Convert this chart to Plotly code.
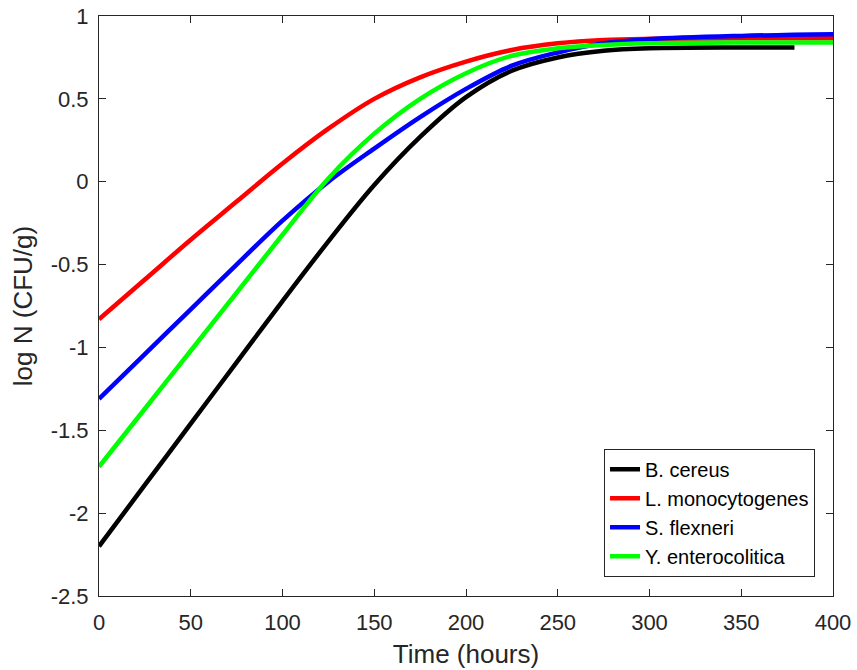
import plotly.graph_objects as go

# Time points (hours)
t_common = [0, 25, 50, 75, 100, 125, 150, 175, 200, 225, 250, 275, 300, 350, 400]
t_black = [0, 25, 50, 75, 100, 125, 150, 175, 200, 225, 250, 275, 300, 350, 379]

# log N (CFU/g) values
b_cereus = [-2.20, -1.83, -1.46, -1.09, -0.72, -0.36, -0.02, 0.27, 0.51, 0.67, 0.75, 0.79, 0.805, 0.81, 0.81]
l_monocytogenes = [-0.83, -0.59, -0.35, -0.12, 0.11, 0.32, 0.50, 0.63, 0.725, 0.795, 0.835, 0.855, 0.862, 0.865, 0.865]
s_flexneri = [-1.31, -1.04, -0.77, -0.50, -0.235, 0.00, 0.20, 0.39, 0.56, 0.70, 0.78, 0.835, 0.86, 0.88, 0.89]
y_enterocolitica = [-1.72, -1.37, -1.02, -0.67, -0.32, 0.02, 0.29, 0.50, 0.655, 0.76, 0.805, 0.825, 0.835, 0.84, 0.84]

series_names = ["B. cereus", "L. monocytogenes", "S. flexneri", "Y. enterocolitica"]

x_tickvals = [0, 50, 100, 150, 200, 250, 300, 350, 400]
x_ticktext = ["0", "50", "100", "150", "200", "250", "300", "350", "400"]
y_tickvals = [-2.5, -2, -1.5, -1, -0.5, 0, 0.5, 1]
y_ticktext = ["-2.5", "-2", "-1.5", "-1", "-0.5", "0", "0.5", "1"]

fig = go.Figure()
data = [
    (t_black, b_cereus, "#000000"),
    (t_common, l_monocytogenes, "#ff0000"),
    (t_common, s_flexneri, "#0000ff"),
    (t_common, y_enterocolitica, "#00ff00"),
]
for (tx, vy, col), name in zip(data, series_names):
    fig.add_trace(go.Scatter(x=tx, y=vy, mode="lines", name=name,
                             line=dict(color=col, width=4.5, shape="spline", smoothing=1.0)))

axis_col = "#262626"
fig.update_layout(
    width=857, height=670,
    margin=dict(l=99, r=24, t=16, b=74, autoexpand=False),
    paper_bgcolor="white", plot_bgcolor="white",
    font=dict(family="Liberation Sans, Arial, sans-serif", size=22, color=axis_col),
    showlegend=True,
    legend=dict(x=0.9755, y=0.033, xanchor="right", yanchor="bottom",
                bgcolor="white", bordercolor=axis_col, borderwidth=1,
                font=dict(size=20, color="#000000"),
                tracegroupgap=0),
)
fig.update_xaxes(range=[0, 400], tickvals=x_tickvals, ticktext=x_ticktext,
                 ticks="inside", ticklen=7, tickcolor=axis_col, mirror="allticks",
                 showline=True, linecolor=axis_col, linewidth=1, showgrid=False, zeroline=False,
                 ticklabeloverflow="allow", ticklabelstandoff=7,
                 title=dict(text="Time (hours)", font=dict(size=26, color=axis_col), standoff=10),
                 tickfont=dict(size=22, color=axis_col))
fig.update_yaxes(range=[-2.5, 1], tickvals=y_tickvals, ticktext=y_ticktext,
                 ticks="inside", ticklen=7, tickcolor=axis_col, mirror="allticks",
                 showline=True, linecolor=axis_col, linewidth=1, showgrid=False, zeroline=False,
                 ticklabeloverflow="allow", ticklabelstandoff=5,
                 title=dict(text="log N (CFU/g)", font=dict(size=26, color=axis_col), standoff=10),
                 tickfont=dict(size=22, color=axis_col))

fig.write_html("out.html", config={"displayModeBar": False},
               post_script="document.body.style.margin='0px';")
